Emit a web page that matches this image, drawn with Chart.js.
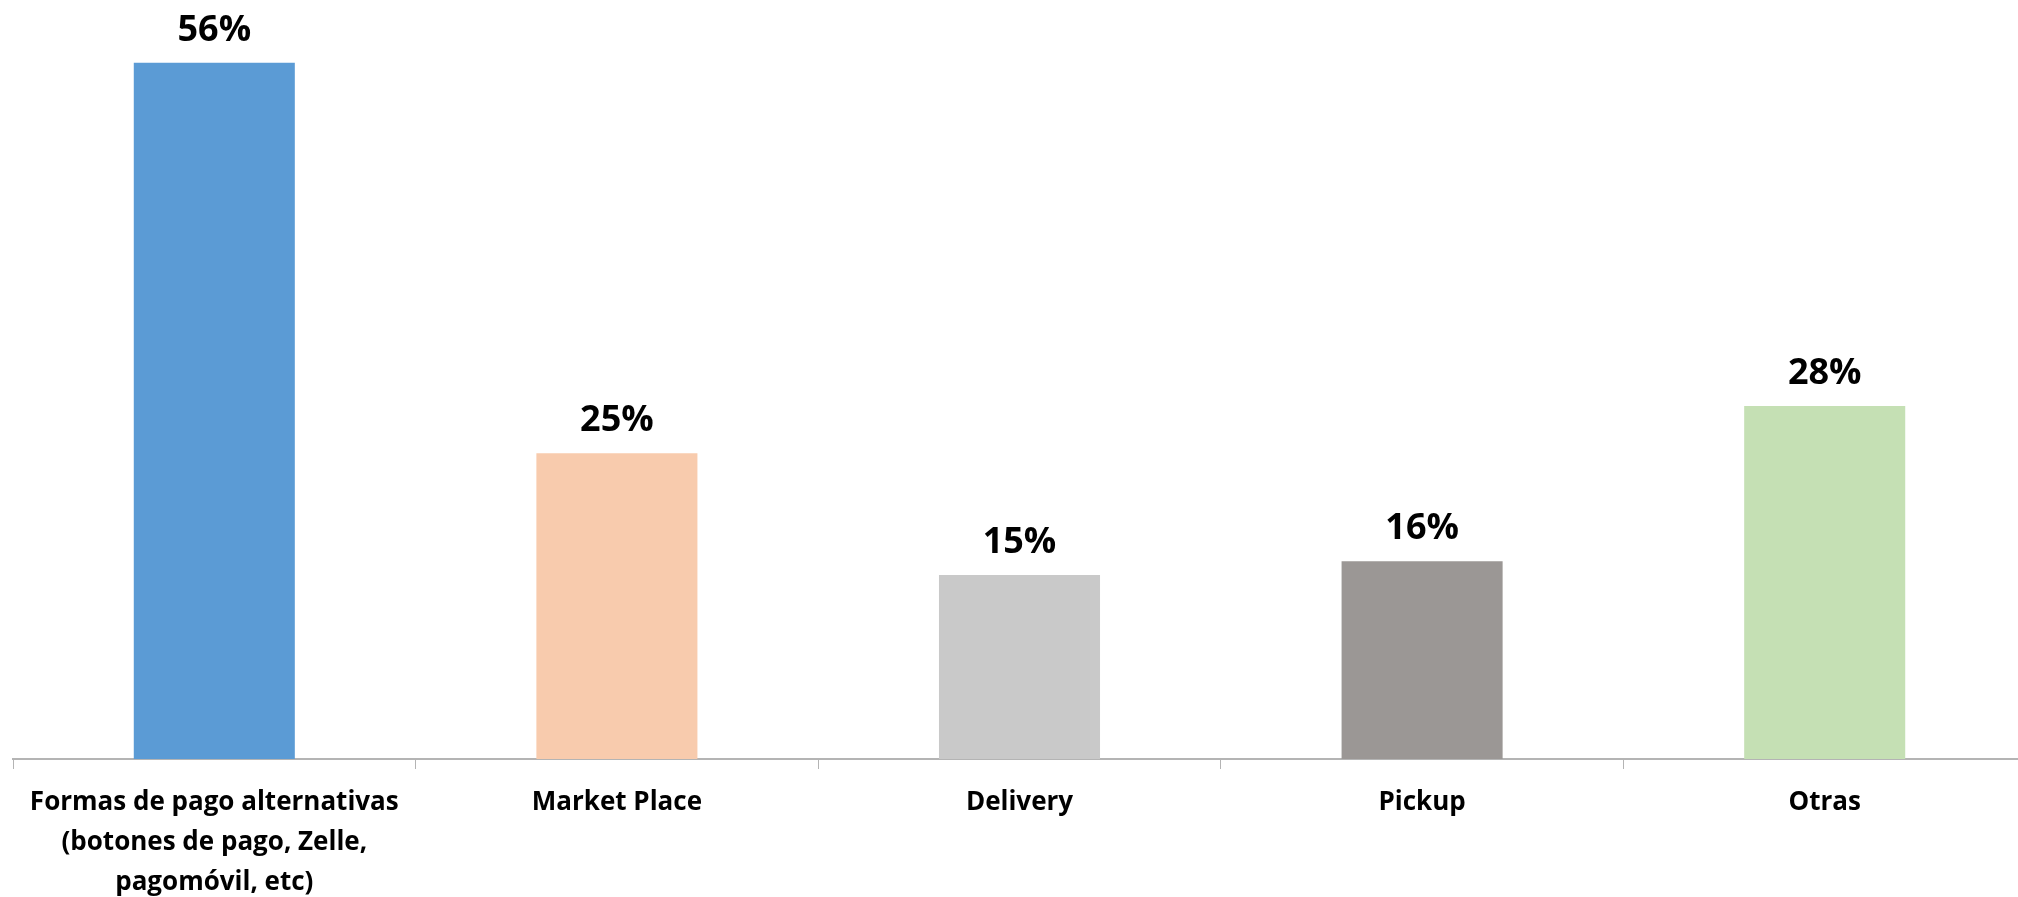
<!DOCTYPE html>
<html>
<head>
<meta charset="utf-8">
<script src="https://cdn.jsdelivr.net/npm/chart.js@4.4.1/dist/chart.umd.min.js"></script>
<style>
    html, body { margin:0; padding:0; background:#fff; overflow:hidden; }
    #wrap { width:2026px; height:897px; }
</style>
</head>
<body>
<div id="wrap"><canvas id="barChart"></canvas></div>
<script>
// ── DATA ────────────────────────────────────────────
const categories = [
    ['Formas de pago alternativas', '(botones de pago, Zelle,', 'pagomóvil, etc)'],
    'Market Place',
    'Delivery',
    'Pickup',
    'Otras'
];
const values     = [56, 24.6, 14.8, 15.9, 28.4];
const barColors  = ['#5B9BD5', '#F8CBAD', '#C9C9C9', '#9B9795', '#C5E0B4'];

const FONT = "'Open Sans', 'DejaVu Sans', sans-serif";

// ── value labels above bars ─────────────────────────
const valueLabels = {
    id: 'valueLabels',
    afterDatasetsDraw(chart) {
        const ctx = chart.ctx;
        ctx.save();
        ctx.font = `bold 36px ${FONT}`;
        ctx.fillStyle = '#000';
        ctx.textAlign = 'center';
        ctx.textBaseline = 'alphabetic';
        chart.getDatasetMeta(0).data.forEach((bar, i) => {
            ctx.fillText(Math.round(values[i]) + '%', bar.x, bar.y - 22);
        });
        ctx.restore();
    }
};

new Chart(document.getElementById('barChart'), {
    type: 'bar',
    data: {
        labels: categories,
        datasets: [{
            data: values,
            backgroundColor: barColors,
            borderWidth: 0,
            barPercentage: 0.4,
            categoryPercentage: 1
        }]
    },
    options: {
        responsive: true,
        maintainAspectRatio: false,
        animation: false,
        layout: { padding: { left: 13, right: 0, top: 13, bottom: 0 } },
        plugins: { legend: { display: false }, tooltip: { enabled: false } },
        scales: {
            x: {
                afterFit: s => { s.height = 138; },
                border: { display: true, color: '#B4B4B4', width: 2 },
                grid: { display: true, drawOnChartArea: false, drawTicks: true,
                        tickLength: 10, color: '#B4B4B4', offset: true },
                ticks: { color: '#000', padding: 14, maxRotation: 0, autoSkip: false,
                         font: { family: FONT, size: 26, weight: 'bold', lineHeight: '40px' } }
            },
            y: { display: false, min: 0, max: 60 }
        }
    },
    plugins: [valueLabels]
});
</script>
</body>
</html>
